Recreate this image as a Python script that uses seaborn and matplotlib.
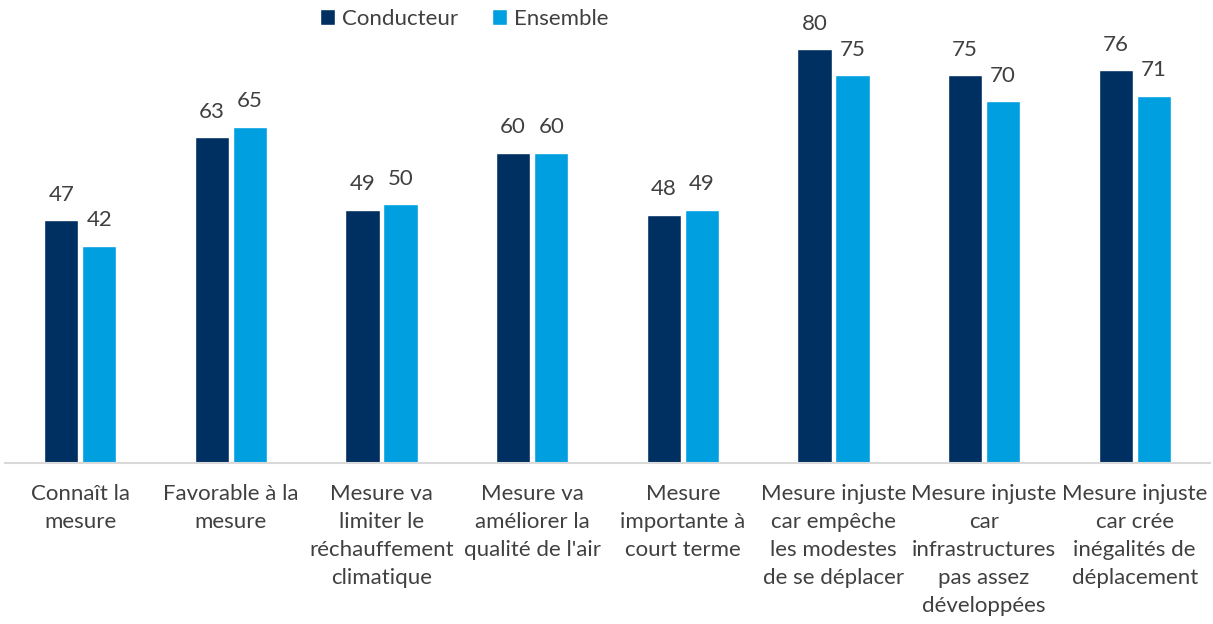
import pandas as pd
import matplotlib.pyplot as plt
import seaborn as sns

# ====================================
# Data
# ====================================
categories = [
    "Connaît la\nmesure",
    "Favorable à la\nmesure",
    "Mesure va\nlimiter le\nréchauffement\nclimatique",
    "Mesure va\naméliorer la\nqualité de l'air",
    "Mesure\nimportante à\ncourt terme",
    "Mesure injuste\ncar empêche\nles modestes\nde se déplacer",
    "Mesure injuste\ncar\ninfrastructures\npas assez\ndéveloppées",
    "Mesure injuste\ncar crée\ninégalités de\ndéplacement",
]
series = ["Conducteur", "Ensemble"]
conducteur = [47, 63, 49, 60, 48, 80, 75, 76]
ensemble = [42, 65, 50, 60, 49, 75, 70, 71]

df = pd.DataFrame({
    "categorie": categories * 2,
    "groupe": [series[0]] * len(categories) + [series[1]] * len(categories),
    "valeur": conducteur + ensemble,
})

colors = ["#002F62", "#009FE0"]
text_color = "#404040"

# ====================================
# Chart
# ====================================
sns.set_style("white")
plt.rcParams["font.family"] = ["Lato", "DejaVu Sans"]

fig = plt.figure(figsize=(12.13, 6.24), dpi=100)
ax = fig.add_axes([5 / 1213, 161 / 624, 1205 / 1213, 463 / 624])

sns.barplot(data=df, x="categorie", y="valeur", hue="groupe", order=categories,
            hue_order=series, palette=colors, width=0.505, gap=0.1,
            saturation=1, ax=ax)

for cont in ax.containers:
    ax.bar_label(cont, fmt="%d", padding=11, fontsize=16, color=text_color)

ax.set_ylim(0, 89.5)
ax.set_xlim(-0.5, len(categories) - 0.5)
ax.set_xlabel("")
ax.set_ylabel("")
ax.set_yticks([])
for side in ["left", "right", "top"]:
    ax.spines[side].set_visible(False)
ax.spines["bottom"].set_color("#D9D9D9")
ax.spines["bottom"].set_linewidth(1.5)
ax.tick_params(axis="x", length=0, pad=15, labelsize=16, labelcolor=text_color)
for lbl in ax.get_xticklabels():
    lbl.set_linespacing(1.5)
    lbl.set_verticalalignment("top")

handles, labels = ax.get_legend_handles_labels()
ax.legend(handles, labels, loc="upper center", bbox_to_anchor=(0.381, 1.024),
          ncol=2, frameon=False, fontsize=16, handlelength=0.7, handleheight=0.7,
          handletextpad=0.3, columnspacing=1.5, labelcolor=text_color)

fig.savefig("out.png", dpi=100)
